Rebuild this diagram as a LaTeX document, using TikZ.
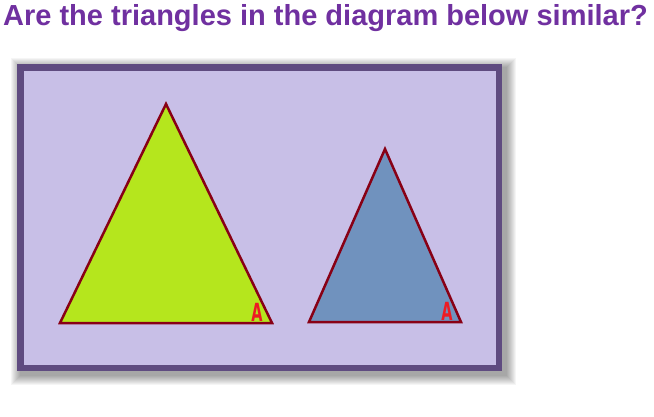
\documentclass[tikz,border=0pt]{standalone}
\usepackage{fontspec}
\setmainfont{Liberation Sans}
\newfontfamily\labelfont{DejaVu Sans}
\definecolor{titlepurple}{HTML}{7030A0}
\definecolor{bgpanel}{HTML}{C8BFE7}
\definecolor{framecol}{HTML}{5F4B80}
\definecolor{greenfill}{HTML}{B5E61D}
\definecolor{bluefill}{HTML}{7092BE}
\definecolor{edgered}{HTML}{880015}
\definecolor{labelred}{HTML}{ED1C24}
\begin{document}
\begin{tikzpicture}[x=1pt,y=-1pt,
  tri/.style={draw=edgered,line width=2.5pt,line join=miter},
  anglelabel/.style={text=labelred,font=\labelfont\fontsize{25}{25}\selectfont\bfseries,xscale=0.58,inner sep=0pt,anchor=base}]
\useasboundingbox[fill=white] (0,0) rectangle (654,416);
% title
\node[anchor=base west,inner sep=0pt,text=titlepurple,font=\fontsize{29}{29}\selectfont\bfseries] (title) at (3,25) {Are the triangles in the diagram below similar?};
% soft shadow
\foreach \i in {1,...,10}{
  \fill[black,opacity=0.04] (21-\i,68-\i) rectangle (506+\i,375+\i);
}
% frame
\fill[framecol] (17,64) rectangle (502,371);
\fill[bgpanel] (24,70.5) rectangle (495.5,364.5);
% triangles
\filldraw[tri,fill=greenfill] (166,104) -- (60,323) -- (272,323) -- cycle;
\filldraw[tri,fill=bluefill] (385,149) -- (309,322) -- (461,322) -- cycle;
% labels
\node[anglelabel] (a1) at (257,321) {A};
\node[anglelabel] (a2) at (447,320) {A};
\end{tikzpicture}
\end{document}
